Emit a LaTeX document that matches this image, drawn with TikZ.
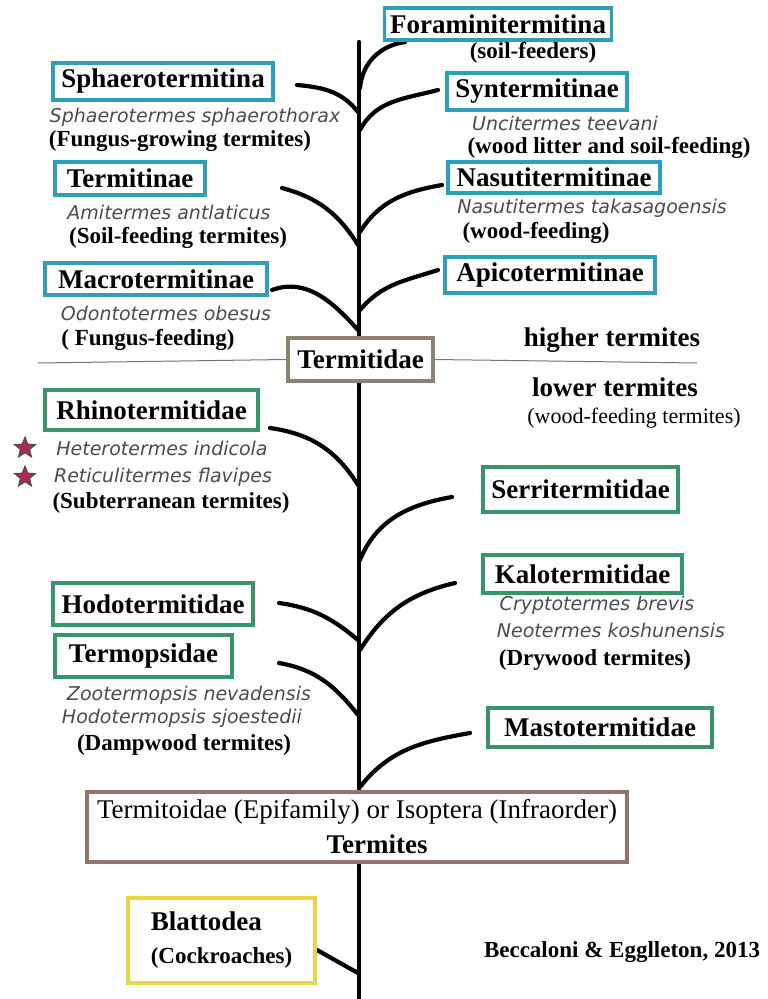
\documentclass[tikz,border=0pt]{standalone}
\usepackage{fontspec}
\setmainfont{Liberation Serif}
\newfontfamily\spfont{DejaVu Sans}
\usepackage{tikz}
\usetikzlibrary{shapes.geometric}
\usepackage{xcolor}

\definecolor{tealbd}{RGB}{45,160,185}
\definecolor{greenbd}{RGB}{55,150,105}
\definecolor{taupebd}{RGB}{140,130,115}
\definecolor{brownbd}{RGB}{150,115,105}
\definecolor{yellowbd}{RGB}{232,214,70}
\definecolor{spgray}{RGB}{75,75,75}
\definecolor{starred}{RGB}{175,40,80}

\newcommand{\ttl}{\fontsize{13.5}{15}\selectfont\bfseries}
\newcommand{\subt}{\fontsize{11.5}{13}\selectfont\bfseries}
\newcommand{\spc}{\fontsize{9.5}{11}\selectfont\spfont\itshape}

\tikzset{
  taxon/.style={line width=1.8pt, fill=white, inner sep=0pt, font=\ttl},
  higherbox/.style={taxon, draw=tealbd},
  lowerbox/.style={taxon, draw=greenbd},
  species/.style={font=\spc, text=spgray, inner sep=0pt},
  habit/.style={font=\subt, inner sep=0pt},
  branch/.style={line width=2.1pt, line cap=round},
  redstar/.style={star, star points=5, star point ratio=2.3, minimum size=11pt,
    inner sep=0pt, fill=starred, draw=black!70, line width=0.5pt}
}

\begin{document}
\begin{tikzpicture}[x=0.5pt, y=-0.5pt]
    \useasboundingbox (0,0) rectangle (767,999);

    % Trunk
    \coordinate (top) at (359,42);
    \coordinate (bot) at (359,999);
    \draw[branch] (top) -- (bot);

    % Junctions on the trunk
    \coordinate (jFora) at (360,88);
    \coordinate (jSphaero) at (358,112);
    \coordinate (jSynt) at (360,130);
    \coordinate (jTermitinae) at (358,245);
    \coordinate (jNasuti) at (360,232);
    \coordinate (jMacro) at (358,330);
    \coordinate (jApico) at (360,310);
    \coordinate (jRhino) at (358,485);
    \coordinate (jSerri) at (360,560);
    \coordinate (jKalo) at (360,650);
    \coordinate (jHodo) at (358,640);
    \coordinate (jTermop) at (358,715);
    \coordinate (jMasto) at (360,787);
    \coordinate (jBlatto) at (358,973);

    % Branch tips
    \coordinate (tFora) at (405,42);
    \coordinate (tSphaero) at (297,85);
    \coordinate (tSynt) at (438,90);
    \coordinate (tTermitinae) at (282,188);
    \coordinate (tNasuti) at (442,185);
    \coordinate (tMacro) at (272,290);
    \coordinate (tApico) at (438,270);
    \coordinate (tRhino) at (270,428);
    \coordinate (tSerri) at (452,497);
    \coordinate (tKalo) at (455,583);
    \coordinate (tHodo) at (279,603);
    \coordinate (tTermop) at (279,663);
    \coordinate (tMasto) at (470,733);
    \coordinate (tBlatto) at (317,950);

    % Branches
    \draw[branch] (tFora) to[out=188,in=85] (jFora);
    \draw[branch] (tSphaero) to[out=-5,in=128] (jSphaero);
    \draw[branch] (tSynt) to[out=195,in=62] (jSynt);
    \draw[branch] (tTermitinae) to[out=-15,in=122] (jTermitinae);
    \draw[branch] (tNasuti) to[out=190,in=58] (jNasuti);
    \draw[branch] (tMacro) to[out=20,in=132] (jMacro);
    \draw[branch] (tApico) to[out=198,in=50] (jApico);
    \draw[branch] (tRhino) to[out=-8,in=122] (jRhino);
    \draw[branch] (tSerri) to[out=190,in=68] (jSerri);
    \draw[branch] (tKalo) to[out=193,in=58] (jKalo);
    \draw[branch] (tHodo) to[out=-8,in=140] (jHodo);
    \draw[branch] (tTermop) to[out=-10,in=128] (jTermop);
    \draw[branch] (tMasto) to[out=190,in=52] (jMasto);
    \draw[branch] (tBlatto) -- (jBlatto);

    % Higher termites (Termitidae subfamilies)
    \node[higherbox, minimum width=113.5pt, minimum height=16pt] (fora) at (498,24) {Foraminitermitina};
    \node[habit] (foraHab) at (533,53) {(soil-feeders)};

    \node[higherbox, minimum width=110pt, minimum height=18.5pt] (sphaero) at (163,81.5) {Sphaerotermitina};
    \node[species] (sphaeroSp) at (195,117) {Sphaerotermes sphaerothorax};
    \node[habit] (sphaeroHab) at (180,141) {(Fungus-growing termites)};

    \node[higherbox, minimum width=90pt, minimum height=18.5pt] (synt) at (537,91.5) {Syntermitinae};
    \node[species] (syntSp) at (565,123) {Uncitermes teevani};
    \node[habit] (syntHab) at (609,148) {(wood litter and soil-feeding)};

    \node[higherbox, minimum width=75pt, minimum height=16.5pt] (termitinae) at (130,178.5) {Termitinae};
    \node[species] (termitinaeSp) at (169,212) {Amitermes antlaticus};
    \node[habit] (termitinaeHab) at (178,238) {(Soil-feeding termites)};

    \node[higherbox, minimum width=106pt, minimum height=15.5pt] (nasuti) at (554,177.5) {Nasutitermitinae};
    \node[species] (nasutiSp) at (592,208) {Nasutitermes takasagoensis};
    \node[habit] (nasutiHab) at (536,233) {(wood-feeding)};

    \node[higherbox, minimum width=111pt, minimum height=16pt] (macro) at (156,279) {Macrotermitinae};
    \node[species] (macroSp) at (166,313) {Odontotermes obesus};
    \node[habit] (macroHab) at (148,340) {( Fungus-feeding)};

    \node[higherbox, minimum width=105pt, minimum height=18pt] (apico) at (550,275) {Apicotermitinae};

    % Termitidae and the higher / lower split
    \node[taxon, draw=taupebd, minimum width=72.5pt, minimum height=21.5pt] (termitidae) at (360.5,359.5) {Termitidae};
    \coordinate (splitL) at (38,363);
    \coordinate (splitR) at (697,363);
    \draw[black!55, line width=0.5pt] (splitL) -- (termitidae.west);
    \draw[black!55, line width=0.5pt] (termitidae.east) -- (splitR);
    \node[font=\ttl, inner sep=0pt] (higher) at (612,340) {higher termites};
    \node[font=\ttl, inner sep=0pt] (lower) at (615,387) {lower termites};
    \node[font=\fontsize{11}{13}\selectfont, inner sep=0pt] (lowerHab) at (634,418) {(wood-feeding termites)};

    % Lower termite families
    \node[lowerbox, minimum width=106.5pt, minimum height=20pt] (rhino) at (151.5,410) {Rhinotermitidae};
    \node[redstar] (star1) at (25,448) {};
    \node[redstar] (star2) at (25,477) {};
    \node[species] (rhinoSp1) at (162,448) {Heterotermes indicola};
    \node[species] (rhinoSp2) at (163,477) {Reticulitermes flavipes};
    \node[habit] (rhinoHab) at (171,503) {(Subterranean termites)};

    \node[lowerbox, minimum width=97.5pt, minimum height=22.5pt] (serri) at (580.5,489.5) {Serritermitidae};

    \node[lowerbox, minimum width=99.5pt, minimum height=19pt] (kalo) at (582.5,574) {Kalotermitidae};
    \node[species] (kaloSp1) at (597,605) {Cryptotermes brevis};
    \node[species] (kaloSp2) at (611,630) {Neotermes koshunensis};
    \node[habit] (kaloHab) at (595,660) {(Drywood termites)};

    \node[lowerbox, minimum width=100pt, minimum height=21pt] (hodo) at (153,604) {Hodotermitidae};

    \node[lowerbox, minimum width=88.5pt, minimum height=21pt] (termop) at (143.5,656) {Termopsidae};
    \node[species] (termopSp1) at (189,695) {Zootermopsis nevadensis};
    \node[species] (termopSp2) at (182,718) {Hodotermopsis sjoestedii};
    \node[habit] (termopHab) at (184,745) {(Dampwood termites)};

    \node[lowerbox, minimum width=112pt, minimum height=19.5pt] (masto) at (600,727.5) {Mastotermitidae};

    % Termites as a whole
    \node[taxon, draw=brownbd, font=\fontsize{13.5}{17.5}\selectfont, align=center,
      minimum width=270pt, minimum height=35pt] (termitoidae) at (357,827)
      {Termitoidae (Epifamily) or Isoptera (Infraorder)\\\hspace*{20pt}{\bfseries Termites}};

    % Cockroaches
    \node[taxon, draw=yellowbd, align=left, minimum width=93.5pt, minimum height=42.5pt] (blatto) at (221.5,940.5)
      {{\ttl Blattodea}\\[1.5pt]{\subt (Cockroaches)}};

    \node[habit] (source) at (622,952) {Beccaloni \& Egglleton, 2013};
\end{tikzpicture}
\end{document}
